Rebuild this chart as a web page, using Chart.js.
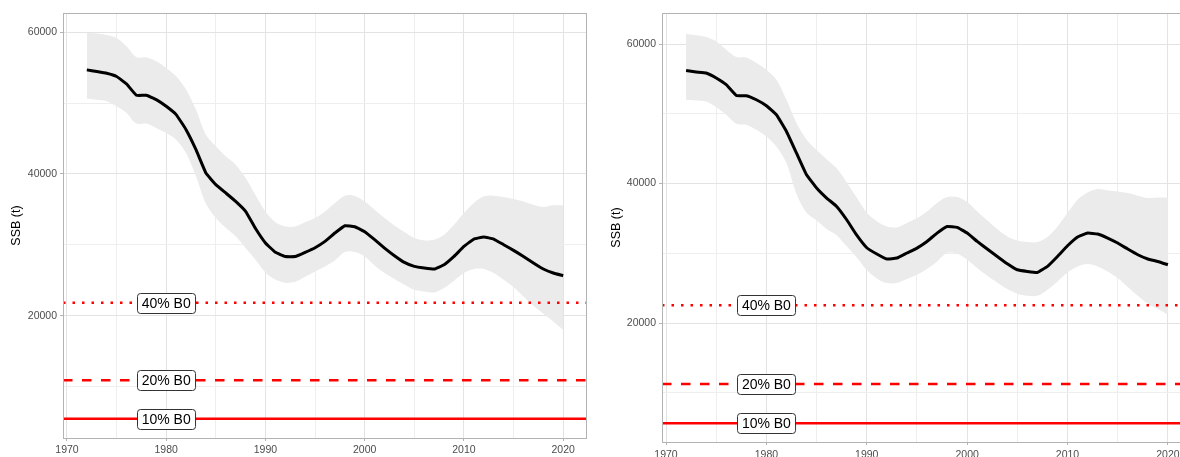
<!DOCTYPE html>
<html>
<head>
<meta charset="utf-8">
<script src="https://cdn.jsdelivr.net/npm/chart.js@4.4.1/dist/chart.umd.min.js"></script>
<style>
html, body { margin: 0; padding: 0; background: #fff; overflow: hidden; width: 1180px; height: 457px; }
#leftBox { position: absolute; left: 0; top: 0; }
#rightBox { position: absolute; left: 600px; top: 0; }
</style>
</head>
<body>
<div id="leftBox"><canvas id="leftChart" width="595" height="457"></canvas></div>
<div id="rightBox"><canvas id="rightChart" width="600" height="457"></canvas></div>
<script>
var years = [1972, 1973, 1974, 1975, 1976, 1977, 1978, 1979, 1980, 1981, 1982, 1983, 1984, 1985, 1986, 1987,
    1988, 1989, 1990, 1991, 1992, 1993, 1994, 1995, 1996, 1997, 1998, 1999, 2000, 2001, 2002, 2003,
    2004, 2005, 2006, 2007, 2008, 2009, 2010, 2011, 2012, 2013, 2014, 2015, 2016, 2017, 2018, 2019, 2020];

// left panel
var ssbLeft = [54680, 54450, 54200, 53750, 52700, 51090, 51090, 50490, 49540, 48370, 46250, 43430, 40140, 38490, 37320, 36130,
    34720, 32300, 30260, 28950, 28350, 28350, 28950, 29600, 30490, 31670, 32700, 32550, 31850, 30730, 29550, 28470,
    27520, 26960, 26730, 26590, 27200, 28370, 29780, 30820, 31110, 30820, 30020, 29220, 28370, 27440, 26590, 26030, 25650];
var upperLeft = [59900, 59800, 59600, 59190, 58010, 56460, 56460, 55890, 54960, 53780, 51900, 49070, 45540, 43890, 42480, 41310,
    39430, 37000, 34700, 33200, 32600, 32600, 33200, 33790, 34720, 35910, 36940, 36900, 36130, 34960, 33790, 32740,
    31810, 30960, 30630, 30730, 31430, 32840, 34490, 35910, 36840, 36940, 36750, 36470, 36130, 35660, 35340, 35570, 35570];
var lowerLeft = [50630, 50450, 50250, 49540, 48610, 47100, 47100, 46490, 45780, 44840, 42960, 39660, 35800, 33800, 32400, 31200,
    29550, 27900, 26100, 25100, 24650, 24800, 25500, 26250, 26960, 27800, 28990, 28990, 28370, 27100, 26030, 25180,
    24380, 23670, 23430, 23290, 23910, 24940, 26030, 26590, 26590, 26030, 25080, 24050, 22720, 21410, 20280, 19200, 18020];
var refLeft = [21840, 10920, 5460];

// right panel
var ssbRight = [56220, 56000, 55840, 55130, 54170, 52630, 52590, 52010, 51150, 49860, 47470, 44370, 41260, 39360, 37920, 36720,
    34810, 32600, 30800, 29900, 29180, 29320, 30040, 30750, 31700, 32900, 33850, 33710, 32900, 31700, 30610, 29550,
    28500, 27640, 27400, 27260, 28120, 29550, 31080, 32330, 32900, 32760, 32190, 31470, 30610, 29790, 29180, 28830, 28360];
var upperRight = [61480, 61250, 61000, 60370, 59180, 58130, 58060, 57280, 56320, 54890, 52010, 48670, 46300, 44800, 43500, 42200,
    40200, 38000, 35800, 34600, 33850, 33710, 34340, 35050, 36000, 37200, 38060, 38060, 37350, 36000, 34710, 33480,
    32420, 31840, 31610, 31610, 32330, 33850, 35770, 37680, 38730, 39210, 39010, 38870, 38640, 38250, 37920, 38010, 38010];
var lowerRight = [52010, 51900, 51770, 50970, 49860, 48580, 48430, 47710, 46750, 45320, 42940, 38500, 35800, 34700, 33500, 32600,
    31000, 29400, 27600, 26400, 25730, 25730, 26310, 26920, 27740, 28830, 30040, 29930, 29080, 27880, 26780, 25820,
    24870, 24200, 23910, 23910, 24770, 25970, 27260, 28120, 28460, 28120, 27400, 26450, 25160, 23910, 22770, 22010, 21190];
var refRight = [22560, 11280, 5640];

var refNames = ['40% B0', '20% B0', '10% B0'];
var refLabelYear = 1980;
var xTicks = [1970, 1975, 1980, 1985, 1990, 1995, 2000, 2005, 2010, 2015, 2020];
var yTicks = [10000, 20000, 30000, 40000, 50000, 60000];

Chart.defaults.font.family = '"Liberation Sans", Arial, sans-serif';

function toPoints(vals) {
    return years.map(function (yr, i) { return { x: yr, y: vals[i] }; });
}

function makeChart(id, ssb, upper, lower, refs, yMin, yMax, xHeight, yWidth, xPad) {
    var xMin = 1969.6, xMax = 2022.4;
    var dashes = [[2.5, 7], [9.5, 9.5], []];

    var datasets = [{
        label: 'SSB',
        data: toPoints(ssb),
        borderColor: '#000',
        borderWidth: 3,
        pointRadius: 0,
        tension: 0.1,
        fill: false,
        borderJoinStyle: 'round'
    }];
    refs.forEach(function (v, i) {
        datasets.push({
            label: refNames[i],
            data: [{ x: xMin, y: v }, { x: xMax, y: v }],
            borderColor: '#ff0000',
            borderWidth: 2.5,
            borderDash: dashes[i],
            borderCapStyle: 'butt',
            pointRadius: 0,
            fill: false
        });
    });
    datasets.push({
        label: 'upper',
        data: toPoints(upper),
        borderWidth: 0,
        borderColor: 'rgba(0,0,0,0)',
        backgroundColor: '#ebebeb',
        pointRadius: 0,
        tension: 0.3,
        fill: '+1'
    });
    datasets.push({
        label: 'lower',
        data: toPoints(lower),
        borderWidth: 0,
        borderColor: 'rgba(0,0,0,0)',
        pointRadius: 0,
        tension: 0.3,
        fill: false
    });

    var refPlugin = {
        id: 'refLabels',
        afterDatasetsDraw: function (chart) {
            var c = chart.ctx, xs = chart.scales.x, ys = chart.scales.y;
            c.save();
            c.font = '14px "Liberation Sans", Arial, sans-serif';
            c.textAlign = 'center';
            c.textBaseline = 'middle';
            refs.forEach(function (v, i) {
                var cx = xs.getPixelForValue(refLabelYear);
                var cy = ys.getPixelForValue(v);
                var w = c.measureText(refNames[i]).width + 9, h = 20;
                var x0 = Math.round(cx - w / 2) + 0.5, y0 = Math.round(cy - h / 2) + 0.5;
                c.beginPath();
                c.roundRect(x0, y0, w, h, 3);
                c.fillStyle = '#fff';
                c.fill();
                c.strokeStyle = '#333';
                c.lineWidth = 1;
                c.stroke();
                c.fillStyle = '#000';
                c.fillText(refNames[i], cx, cy + 1);
            });
            c.restore();
        },
        afterDraw: function (chart) {
            var a = chart.chartArea, c = chart.ctx;
            c.save();
            c.strokeStyle = '#b3b3b3';
            c.lineWidth = 1;
            c.strokeRect(a.left + 0.5, a.top + 0.5, a.right - a.left - 1, a.bottom - a.top);
            c.restore();
        }
    };

    return new Chart(document.getElementById(id).getContext('2d'), {
        type: 'line',
        data: { datasets: datasets },
        plugins: [refPlugin],
        options: {
            responsive: false,
            animation: false,
            devicePixelRatio: 1,
            layout: { padding: { top: 13, right: 8, left: 0, bottom: 0 } },
            plugins: { legend: { display: false }, tooltip: { enabled: false } },
            scales: {
                x: {
                    type: 'linear',
                    min: xMin,
                    max: xMax,
                    afterBuildTicks: function (s) { s.ticks = xTicks.map(function (v) { return { value: v }; }); },
                    afterFit: function (s) { s.height = xHeight; },
                    border: { display: false },
                    grid: {
                        color: function (ctx) { return ctx.tick && ctx.tick.value % 10 === 0 ? '#e3e3e3' : '#eeeeee'; },
                        tickColor: function (ctx) { return ctx.tick && ctx.tick.value % 10 === 0 ? '#b3b3b3' : 'rgba(0,0,0,0)'; },
                        tickLength: 3
                    },
                    ticks: {
                        autoSkip: false,
                        maxRotation: 0,
                        padding: xPad,
                        color: '#4d4d4d',
                        font: { size: 10.5 },
                        callback: function (v) { return v % 10 === 0 ? String(v) : ''; }
                    }
                },
                y: {
                    min: yMin,
                    max: yMax,
                    afterBuildTicks: function (s) { s.ticks = yTicks.map(function (v) { return { value: v }; }); },
                    afterFit: function (s) { s.width = yWidth; },
                    border: { display: false },
                    title: {
                        display: true,
                        text: 'SSB (t)',
                        color: '#000',
                        font: { size: 12.5 },
                        padding: { top: 9.5, bottom: 0 }
                    },
                    grid: {
                        color: function (ctx) { return ctx.tick && ctx.tick.value % 20000 === 0 ? '#e3e3e3' : '#eeeeee'; },
                        tickColor: function (ctx) { return ctx.tick && ctx.tick.value % 20000 === 0 ? '#b3b3b3' : 'rgba(0,0,0,0)'; },
                        tickLength: 3
                    },
                    ticks: {
                        padding: 3,
                        color: '#4d4d4d',
                        font: { size: 10.5 },
                        callback: function (v) { return v % 20000 === 0 ? String(v) : ''; }
                    }
                }
            }
        }
    });
}

var leftChart = makeChart('leftChart', ssbLeft, upperLeft, lowerLeft, refLeft, 2760, 62700, 19, 63, 3);
var rightChart = makeChart('rightChart', ssbRight, upperRight, lowerRight, refRight, 2950, 64450, 15, 62, 4);
</script>
</body>
</html>
